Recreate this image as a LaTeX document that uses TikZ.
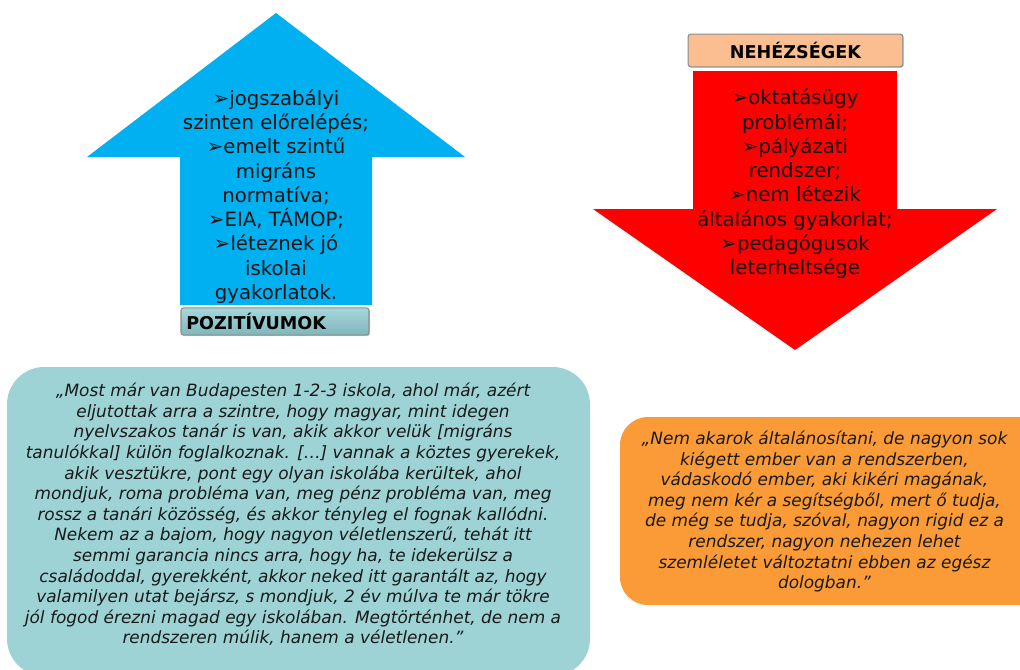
\documentclass[tikz,border=0pt]{standalone}
\usepackage{fontspec}
\setmainfont{DejaVu Sans}
\usetikzlibrary{shadows}

\definecolor{upblue}{RGB}{0,176,240}
\definecolor{downred}{RGB}{255,0,0}
\definecolor{quoteteal}{RGB}{158,211,214}
\definecolor{quoteorange}{RGB}{250,155,55}
\definecolor{tagorange}{RGB}{250,190,145}
\definecolor{tagtealtop}{RGB}{165,215,219}
\definecolor{tagtealbot}{RGB}{128,182,186}

\tikzset{
  armtext/.style={align=center, text=black!92, font=\fontsize{14.8}{18.2}\selectfont},
  quote/.style={align=center, text=black!90, font=\itshape\fontsize{12.7}{15.45}\selectfont},
  tag/.style={draw=gray!90, line width=0.8pt, rounded corners=2pt, inner sep=0pt,
    font=\bfseries\fontsize{13.2}{13.2}\selectfont,
    drop shadow={opacity=0.35, shadow xshift=0.8pt, shadow yshift=-0.8pt}}
}
\newcommand{\pnt}{{\fontsize{15}{15}\selectfont ➢}}

\begin{document}
\begin{tikzpicture}[x=0.75pt,y=-0.75pt]

      \useasboundingbox (0,0) rectangle (1020,669);

      \fill[upblue] (180,305) -- (180,157) -- (87,157) -- (276,13) -- (465,157)
        -- (372,157) -- (372,305) -- cycle;
      \fill[downred] (693,71) -- (897,71) -- (897,209) -- (997,209) -- (795,350)
        -- (593,209) -- (693,209) -- cycle;

      \node[armtext] (pros) at (276,196.5) {\pnt jogszabályi\\ szinten előrelépés;\\
        \pnt emelt szintű\\ migráns\\ normatíva;\\ \pnt EIA, TÁMOP;\\
        \pnt léteznek jó\\ iskolai\\ gyakorlatok.};
      \node[armtext] (cons) at (795,184) {\pnt oktatásügy\\ problémái;\\
        \pnt pályázati\\ rendszer;\\ \pnt nem létezik\\ általános gyakorlat;\\
        \pnt pedagógusok\\ leterheltsége};

      \node[tag, top color=tagtealtop, bottom color=tagtealbot, minimum width=141pt,
        minimum height=20.5pt, text width=133pt, align=left] (pos tag) at (275,321.5)
        {POZITÍVUMOK};
      \node[tag, fill=tagorange, minimum width=161pt, minimum height=24.5pt]
        (neg tag) at (795.5,50.5) {NEHÉZSÉGEK};

      \fill[quoteteal, rounded corners=28pt] (7,367) rectangle (590,676);
      \fill[quoteorange, rounded corners=21pt] (620,417) rectangle (1050,605);

      \node[quote] (teal quote) at (293,514.5) {„Most már van Budapesten 1-2-3 iskola, ahol már, azért\\
        eljutottak arra a szintre, hogy magyar, mint idegen\\
        nyelvszakos tanár is van, akik akkor velük [migráns\\
        tanulókkal] külön foglalkoznak. […] vannak a köztes gyerekek,\\
        akik vesztükre, pont egy olyan iskolába kerültek, ahol\\
        mondjuk, roma probléma van, meg pénz probléma van, meg\\
        rossz a tanári közösség, és akkor tényleg el fognak kallódni.\\
        Nekem az a bajom, hogy nagyon véletlenszerű, tehát itt\\
        semmi garancia nincs arra, hogy ha, te idekerülsz a\\
        családoddal, gyerekként, akkor neked itt garantált az, hogy\\
        valamilyen utat bejársz, s mondjuk, 2 év múlva te már tökre\\
        jól fogod érezni magad egy iskolában. Megtörténhet, de nem a\\
        rendszeren múlik, hanem a véletlenen.”};
      \node[quote] (orange quote) at (824.5,511.5) {„Nem akarok általánosítani, de nagyon sok\\
        kiégett ember van a rendszerben,\\
        vádaskodó ember, aki kikéri magának,\\
        meg nem kér a segítségből, mert ő tudja,\\
        de még se tudja, szóval, nagyon rigid ez a\\
        rendszer, nagyon nehezen lehet\\
        szemléletet változtatni ebben az egész\\
        dologban.”};

    \end{tikzpicture}
\end{document}
